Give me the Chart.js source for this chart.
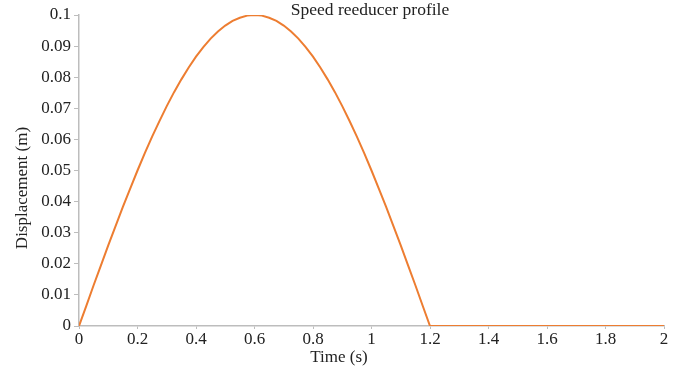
<!DOCTYPE html>
<html>
<head>
<meta charset="utf-8">
<script src="https://cdn.jsdelivr.net/npm/chart.js@4/dist/chart.umd.min.js"></script>
<style>
  html, body { margin: 0; padding: 0; background: #fff; }
  #profil { display: block; }
</style>
</head>
<body>
<canvas id="profil" width="688" height="372"></canvas>
<script>
// Zeitpunkte [s] und Verschiebung [m] des Bremsschwellen-Profils
const zeit = [0, 0.025, 0.05, 0.075, 0.1, 0.125, 0.15, 0.175, 0.2, 0.225, 0.25, 0.275,
  0.3, 0.325, 0.35, 0.375, 0.4, 0.425, 0.45, 0.475, 0.5, 0.525, 0.55, 0.575, 0.6,
  0.625, 0.65, 0.675, 0.7, 0.725, 0.75, 0.775, 0.8, 0.825, 0.85, 0.875, 0.9,
  0.925, 0.95, 0.975, 1.0, 1.025, 1.05, 1.075, 1.1, 1.125, 1.15, 1.175, 1.2,
  1.4, 1.6, 1.8, 2.0];
const verschiebung = [0, 0.0065, 0.0131, 0.0195, 0.0259, 0.0321, 0.0383, 0.0442,
  0.0500, 0.0556, 0.0609, 0.0659, 0.0707, 0.0752, 0.0793, 0.0831, 0.0866, 0.0897,
  0.0924, 0.0947, 0.0966, 0.0981, 0.0991, 0.0998, 0.1000,
  0.0998, 0.0991, 0.0981, 0.0966, 0.0947, 0.0924, 0.0897, 0.0866, 0.0831, 0.0793,
  0.0752, 0.0707, 0.0659, 0.0609, 0.0556, 0.0500, 0.0442, 0.0383, 0.0321, 0.0259,
  0.0195, 0.0131, 0.0065, 0,
  0, 0, 0, 0];

// Achsenbeschriftungen
const xTicks = [0, 0.2, 0.4, 0.6, 0.8, 1, 1.2, 1.4, 1.6, 1.8, 2];
const titel = 'Speed reeducer profile';
const xTitel = 'Time (s)';
const yTitel = 'Displacement (m)';

const familie = '"Liberation Serif", "Times New Roman", serif';
const schrift = { family: familie, size: 17 };

// Titel und Achsentitel direkt auf die Leinwand schreiben
const beschriftung = {
  id: 'beschriftung',
  afterDraw(chart) {
    const ctx = chart.ctx;
    ctx.save();
    ctx.fillStyle = '#222';
    ctx.textAlign = 'center';
    ctx.textBaseline = 'alphabetic';
    ctx.font = '17.5px ' + familie;
    ctx.fillText(titel, 370, 15);
    ctx.font = '17px ' + familie;
    ctx.fillText(xTitel, 339, 362);
    ctx.translate(27, 188);
    ctx.rotate(-Math.PI / 2);
    ctx.fillText(yTitel, 0, 0);
    ctx.restore();
  }
};

const daten = {
  datasets: [{
    label: 'Displacement',
    data: zeit.map((t, i) => ({ x: t, y: verschiebung[i] })),
    borderColor: '#ed7d31',
    backgroundColor: '#ed7d31',
    borderWidth: 2,
    pointRadius: 0,
    tension: 0,
    fill: false
  }]
};

const config = {
  type: 'line',
  data: daten,
  options: {
    responsive: false,
    animation: false,
    layout: { padding: { top: 15, right: 24, left: 0, bottom: 0 } },
    plugins: {
      legend: { display: false },
      title: { display: false },
      tooltip: { enabled: false }
    },
    scales: {
      x: {
        type: 'linear',
        min: 0, max: 2,
        afterBuildTicks: (s) => { s.ticks = xTicks.map(v => ({ value: v })); },
        afterFit: (s) => { s.height = 46; },
        grid: { drawOnChartArea: false, tickLength: 3, color: '#bdbdbd' },
        border: { color: '#bdbdbd', width: 1.5 },
        ticks: { color: '#222', font: schrift, padding: 0, maxRotation: 0,
          callback: (v) => String(v) }
      },
      y: {
        min: 0, max: 0.1,
        afterFit: (s) => { s.width = 79; },
        grid: { drawOnChartArea: false, tickLength: 5, color: '#bdbdbd' },
        border: { color: '#bdbdbd', width: 1.5 },
        ticks: { color: '#222', font: schrift, stepSize: 0.01, padding: 3,
          callback: (v) => String(Math.round(v * 100) / 100) }
      }
    }
  },
  plugins: [beschriftung]
};

const profilChart = new Chart(document.getElementById('profil'), config);
</script>
</body>
</html>
